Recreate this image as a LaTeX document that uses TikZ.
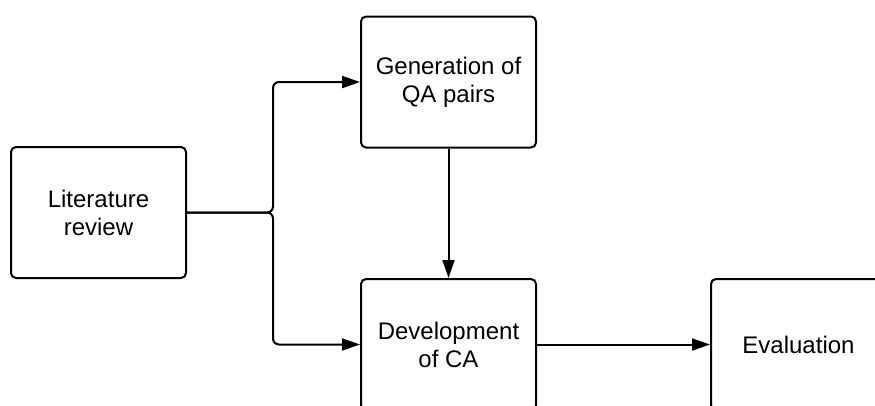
\documentclass[tikz,border=0pt]{standalone}
\usepackage{fontspec}
\setmainfont{Liberation Sans}
\usetikzlibrary{arrows.meta}
\begin{document}
\begin{tikzpicture}[x=1pt,y=-1pt,
  box/.style={draw, line width=2pt, rounded corners=5pt, minimum width=175pt, minimum height=131pt,
    inner sep=0pt, align=center, font=\fontsize{24}{28}\selectfont},
  conn/.style={line width=2pt, -{Triangle[length=18pt,width=12pt]}}]
\useasboundingbox (0,0) rectangle (875,405);
\clip (0,0) rectangle (875,405);
\fill[white] (0,0) rectangle (875,405);
\node[box] (lit) at (98.5,212.5) {Literature\\review};
\node[box] (gen) at (448.5,82) {Generation of\\QA pairs};
\node[box] (dev) at (448.5,344.5) {Development\\of CA};
\node[box] (eval) at (798.5,344.5) {Evaluation};
\draw[conn, rounded corners=6pt] (lit.east) -- ++(86,0) |- (gen.west);
\draw[conn, rounded corners=6pt] (lit.east) -- ++(86,0) |- (dev.west);
\draw[conn] (gen.south) -- (dev.north);
\draw[conn] (dev.east) -- (eval.west);
\end{tikzpicture}
\end{document}
